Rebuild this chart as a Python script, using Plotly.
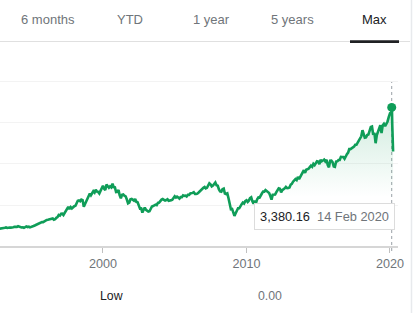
import pandas as pd
import plotly.graph_objects as go

# ---- data: S&P 500 approximate month-end closes ----
closes_1992 = [417.8, 418.7, 431.4, 435.7]  # Sep-Dec 1992
closes_1993_1999 = [
    438.8, 443.4, 451.7, 440.2, 450.2, 450.5, 448.1, 463.6, 458.9, 467.8, 461.8, 466.5,
    481.6, 467.1, 445.8, 450.9, 456.5, 444.3, 458.3, 475.5, 462.7, 472.4, 453.7, 459.3,
    470.4, 487.4, 500.7, 514.7, 533.4, 544.8, 562.1, 561.9, 584.4, 581.5, 605.4, 615.9,
    636.0, 640.4, 645.5, 654.2, 669.1, 670.6, 639.9, 652.0, 687.3, 705.3, 757.0, 740.7,
    786.2, 790.8, 757.1, 801.3, 848.3, 885.1, 954.3, 899.5, 947.3, 914.6, 955.4, 970.4,
    980.3, 1049.3, 1101.8, 1111.8, 1090.8, 1133.8, 1120.7, 957.3, 1017.0, 1098.7, 1163.6, 1229.2,
    1279.6, 1238.3, 1286.4, 1335.2, 1301.8, 1372.7, 1328.7, 1320.4, 1282.7, 1362.9, 1388.9, 1469.3,
]
closes_2000_2009 = [
    1394.5, 1366.4, 1498.6, 1452.4, 1420.6, 1454.6, 1430.8, 1517.7, 1436.5, 1429.4, 1315.2, 1320.3,
    1366.0, 1239.9, 1160.3, 1249.5, 1255.8, 1224.4, 1211.2, 1133.6, 1040.9, 1059.8, 1139.5, 1148.1,
    1130.2, 1106.7, 1147.4, 1076.9, 1067.1, 989.8, 911.6, 916.1, 815.3, 885.8, 936.3, 879.8,
    855.7, 841.2, 848.2, 916.9, 963.6, 974.5, 990.3, 1008.0, 996.0, 1050.7, 1058.2, 1111.9,
    1131.1, 1144.9, 1126.2, 1107.3, 1120.7, 1140.8, 1101.7, 1104.2, 1114.6, 1130.2, 1173.8, 1211.9,
    1181.3, 1203.6, 1180.6, 1156.9, 1191.5, 1191.3, 1234.2, 1220.3, 1228.8, 1207.0, 1249.5, 1248.3,
    1280.1, 1280.7, 1294.9, 1310.6, 1270.1, 1270.2, 1276.7, 1303.8, 1335.9, 1377.9, 1400.6, 1418.3,
    1438.2, 1406.8, 1420.9, 1482.4, 1530.6, 1503.4, 1455.3, 1474.0, 1526.8, 1549.4, 1481.1, 1468.4,
    1378.6, 1330.6, 1322.7, 1385.6, 1400.4, 1280.0, 1267.4, 1282.8, 1166.4, 968.8, 896.2, 903.3,
    825.9, 735.1, 797.9, 872.8, 919.1, 919.3, 987.5, 1020.6, 1057.1, 1036.2, 1095.6, 1115.1,
]
closes_2010_2019 = [
    1073.9, 1104.5, 1169.4, 1186.7, 1089.4, 1030.7, 1101.6, 1049.3, 1141.2, 1183.3, 1180.6, 1257.6,
    1286.1, 1327.2, 1325.8, 1363.6, 1345.2, 1320.6, 1292.3, 1219.0, 1131.4, 1253.3, 1247.0, 1257.6,
    1312.4, 1365.7, 1408.5, 1397.9, 1310.3, 1362.2, 1379.3, 1406.6, 1440.7, 1412.2, 1416.2, 1426.2,
    1498.1, 1514.7, 1569.2, 1597.6, 1630.7, 1606.3, 1685.7, 1633.0, 1681.6, 1756.5, 1805.8, 1848.4,
    1782.6, 1859.5, 1872.3, 1883.9, 1923.6, 1960.2, 1930.7, 2003.4, 1972.3, 2018.1, 2067.6, 2058.9,
    1995.0, 2104.5, 2067.9, 2085.5, 2107.4, 2063.1, 2103.8, 1972.2, 1920.0, 2079.4, 2080.4, 2043.9,
    1940.2, 1932.2, 2059.7, 2065.3, 2096.9, 2098.9, 2173.6, 2170.9, 2168.3, 2126.2, 2198.8, 2238.8,
    2278.9, 2363.6, 2362.7, 2384.2, 2411.8, 2423.4, 2470.3, 2471.7, 2519.4, 2575.3, 2647.6, 2673.6,
    2823.8, 2713.8, 2640.9, 2648.1, 2705.3, 2718.4, 2816.3, 2901.5, 2914.0, 2711.7, 2760.2, 2506.9,
    2704.1, 2784.5, 2834.4, 2945.8, 2752.1, 2941.8, 2980.4, 2926.5, 2976.7, 3037.6, 3141.0, 3230.8,
]
closes_2020_jan = [3225.5]
recent_dates = ["2020-02-14", "2020-02-19", "2020-02-28", "2020-03-09", "2020-03-12", "2020-03-16", "2020-03-20"]
recent_closes = [3380.16, 3386.15, 2954.22, 2746.56, 2480.64, 2386.13, 2304.92]

hover_date = "2020-02-14"
hover_value = 3380.16
hover_label = "14 Feb 2020"

tabs = ["6 months", "YTD", "1 year", "5 years", "Max"]
x_tick_vals = ["2000-01-01", "2010-01-01", "2020-01-01"]
x_tick_text = ["2000", "2010", "2020"]
y_grid_vals = [1000, 2000, 3000, 4000]
stat_label = "Low"
stat_value = "0.00"

# ---- build series ----
monthly_values = closes_1992 + closes_1993_1999 + closes_2000_2009 + closes_2010_2019 + closes_2020_jan
monthly_dates = pd.date_range("1992-09-30", periods=len(monthly_values), freq="ME")
dates = list(monthly_dates.strftime("%Y-%m-%d")) + recent_dates
values = monthly_values + recent_closes

GREEN = "#0f9d58"
FONT = "Liberation Sans, Arial, sans-serif"

fig = go.Figure()
fig.add_trace(go.Scatter(
    x=dates, y=values, mode="lines",
    line=dict(color=GREEN, width=2.6),
    fill="tozeroy",
    fillgradient=dict(type="vertical", start=0, stop=3400,
                      colorscale=[[0, "rgba(15,157,88,0)"], [0.35, "rgba(15,157,88,0)"],
                                  [1, "rgba(15,157,88,0.2)"]]),
    hoverinfo="skip", showlegend=False,
))
fig.add_trace(go.Scatter(
    x=[hover_date], y=[hover_value], mode="markers",
    marker=dict(color=GREEN, size=9),
    hoverinfo="skip", showlegend=False,
))

# plot area: x 0..398 px, y 50..246 px
W, TOP, BOT = 398.0, 50.0, 246.0
def px(x):
    return x / W
def py(y):
    return (BOT - y) / (BOT - TOP)

shapes = [
    dict(type="line", xref="paper", yref="paper", x0=0, x1=px(410), y0=py(41.5), y1=py(41.5),
         line=dict(color="#e0e0e0", width=1)),
    dict(type="rect", xref="paper", yref="paper", x0=px(350), x1=px(399), y0=py(43), y1=py(40.3),
         fillcolor="#202124", line=dict(width=0)),
    dict(type="line", xref="paper", yref="paper", x0=px(411.5), x1=px(411.5), y0=py(0), y1=py(313),
         line=dict(color="#e8eaed", width=1.5)),
    dict(type="line", xref="x", yref="paper", x0=hover_date, x1=hover_date, y0=py(251), y1=py(82),
         line=dict(color="#9aa0a6", width=1, dash="dot"), layer="below"),
]

annotations = []
tab_x = [48, 130, 211, 292, 374]
for t, x in zip(tabs, tab_x):
    annotations.append(dict(
        text=t, xref="paper", yref="paper", x=px(x), y=py(20), showarrow=False,
        xanchor="center", yanchor="middle",
        font=dict(family=FONT, size=13, color="#202124" if t == "Max" else "#70757a"),
    ))
annotations.append(dict(
    text=f"{hover_value:,.2f}&nbsp;&nbsp;<span style='color:#70757a'>{hover_label}</span>",
    xref="x", yref="paper", x=hover_date, y=py(216.5), xanchor="right", yanchor="middle",
    xshift=3, showarrow=False, bgcolor="white", bordercolor="#dcdcdc", borderwidth=1,
    borderpad=5, width=129, height=15, align="center",
    font=dict(family=FONT, size=12.8, color="#202124"),
))
annotations.append(dict(text=stat_label, xref="paper", yref="paper", x=px(111), y=py(296),
                        showarrow=False, xanchor="center", yanchor="middle",
                        font=dict(family=FONT, size=12.3, color="#202124")))
annotations.append(dict(text=stat_value, xref="paper", yref="paper", x=px(270), y=py(296),
                        showarrow=False, xanchor="center", yanchor="middle",
                        font=dict(family=FONT, size=12.3, color="#70757a")))

fig.update_layout(
    width=418, height=313,
    margin=dict(l=0, r=20, t=50, b=67),
    paper_bgcolor="white", plot_bgcolor="white",
    shapes=shapes, annotations=annotations,
    xaxis=dict(
        type="date", range=["1992-10-28", "2020-07-23"],
        showgrid=False, zeroline=False,
        showline=True, linecolor="#d6d6d6", linewidth=2,
        tickvals=x_tick_vals, ticktext=x_tick_text,
        ticks="outside", ticklen=5, tickcolor="#c0c0c0", tickwidth=1,
        tickfont=dict(family=FONT, size=12.6, color="#70757a"),
        fixedrange=True,
    ),
    yaxis=dict(
        range=[0, 4780], tickvals=y_grid_vals, showticklabels=False,
        showgrid=True, gridcolor="#f3f3f3", gridwidth=1, zeroline=False,
        showline=False, ticks="", fixedrange=True,
    ),
    font=dict(family=FONT),
)

fig.write_html("out.html")
